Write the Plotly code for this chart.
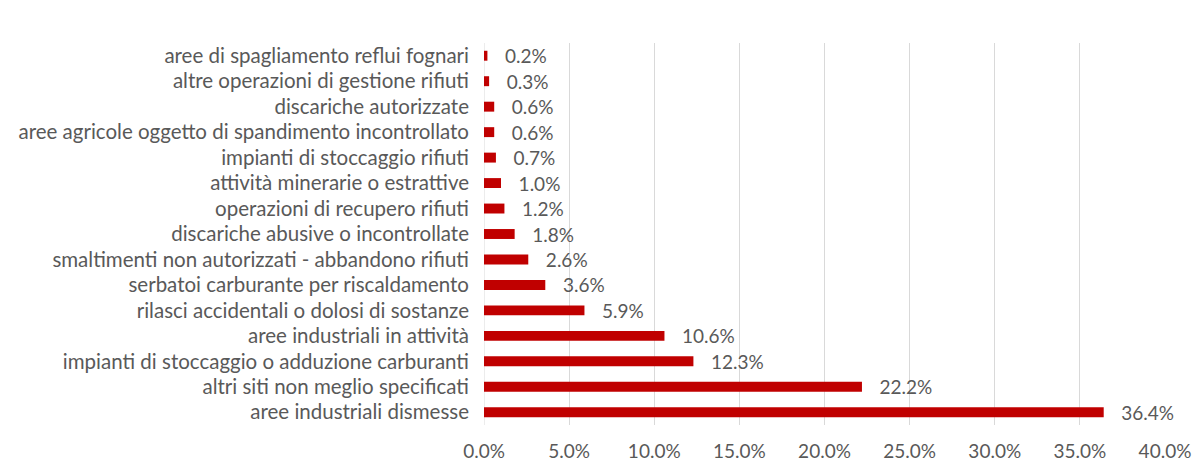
import plotly.graph_objects as go

categories = [
    "aree industriali dismesse",
    "altri siti non meglio specificati",
    "impianti di stoccaggio o adduzione carburanti",
    "aree industriali in attività",
    "rilasci accidentali o dolosi di sostanze",
    "serbatoi carburante per riscaldamento",
    "smaltimenti non autorizzati - abbandono rifiuti",
    "discariche abusive o incontrollate",
    "operazioni di recupero rifiuti",
    "attività minerarie o estrattive",
    "impianti di stoccaggio rifiuti",
    "aree agricole oggetto di spandimento incontrollato",
    "discariche autorizzate",
    "altre operazioni di gestione rifiuti",
    "aree di spagliamento reflui fognari",
]
values = [36.4, 22.2, 12.3, 10.6, 5.9, 3.6, 2.6, 1.8, 1.2, 1.0, 0.7, 0.6, 0.6, 0.3, 0.2]
tick_vals = [0, 5, 10, 15, 20, 25, 30, 35, 40]
tick_text = [f"{v:.1f}%" for v in tick_vals]

FONT = "Lato"
GRAY = "#595959"

fig = go.Figure(go.Bar(
    x=values,
    y=categories,
    orientation="h",
    marker=dict(color="#C00000", line=dict(width=0)),
    width=0.39,
    text=[f"   {v:.1f}%" for v in values],
    textposition="outside",
    constraintext="none",
    cliponaxis=False,
    textfont=dict(family=FONT, size=19, color=GRAY),
))

fig.update_layout(
    width=1194, height=463,
    margin=dict(l=484, r=29, t=43, b=38, autoexpand=False),
    paper_bgcolor="white", plot_bgcolor="white",
    font=dict(family=FONT, size=19, color=GRAY),
    showlegend=False,
    xaxis=dict(
        range=[0, 40], tickvals=tick_vals, ticktext=tick_text,
        showgrid=True, gridcolor="#D9D9D9", gridwidth=1,
        zeroline=False, showline=False,
        tickfont=dict(family=FONT, size=19, color=GRAY),
        ticklabelstandoff=13,
        automargin=False,
    ),
    yaxis=dict(
        categoryorder="array", categoryarray=categories,
        showgrid=False, zeroline=False,
        showline=False,
        tickfont=dict(family=FONT, size=20.5, color=GRAY),
        ticklabelstandoff=14,
        automargin=False,
    ),
)
fig.add_shape(type="line", xref="x", yref="paper", x0=0, x1=0, y0=0, y1=1,
              line=dict(color="#D9D9D9", width=1), layer="below")

fig.write_html("out.html")
